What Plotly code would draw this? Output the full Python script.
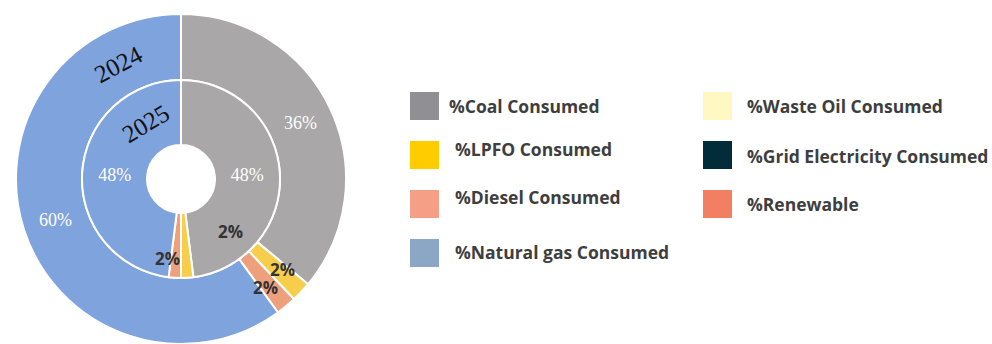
import math
import plotly.graph_objects as go

# ---------------- data ----------------
pie_labels = ["%Coal Consumed", "%LPFO Consumed", "%Diesel Consumed", "%Natural gas Consumed"]
values_2024 = [36, 2, 2, 60]
values_2025 = [48, 2, 2, 48]
pie_colors = ["#A9A7A7", "#F6CE4C", "#EEA07C", "#7FA3DD"]

legend_labels = ["%Coal Consumed", "%LPFO Consumed", "%Diesel Consumed", "%Natural gas Consumed",
                 "%Waste Oil Consumed", "%Grid Electricity Consumed", "%Renewable"]
legend_colors = ["#8F8F94", "#FFCC00", "#F49F86", "#8CA6C5", "#FFF8C2", "#032C3A", "#F37F62"]

# ---------------- layout (pixels) ----------------
W, H = 992, 344
CX, CY = 181, 179          # pie centre
R_OUT, R_MID, R_IN = 165, 99, 34
SERIF = "Liberation Serif"


def px(x):
    return x / W


def py(y):
    return 1 - y / H


fig = go.Figure()

big = lambda vals: ["inside" if v >= 10 else "none" for v in vals]

for vals, r_outer, r_hole in [(values_2024, R_OUT, R_MID), (values_2025, R_MID, R_IN)]:
    dom_y = [max(0, py(CY + r_outer)), py(CY - r_outer)]
    fig.add_trace(go.Pie(
        labels=pie_labels, values=vals, sort=False, direction="clockwise", rotation=0,
        hole=r_hole / r_outer,
        domain=dict(x=[px(CX - r_outer), px(CX + r_outer)], y=dom_y),
        marker=dict(colors=pie_colors, line=dict(color="white", width=2)),
        texttemplate="%{value}%", textposition=big(vals),
        insidetextorientation="horizontal",
        insidetextfont=dict(family=SERIF, size=18, color="white"),
        textfont=dict(family=SERIF, size=18, color="white"),
        showlegend=False, hoverinfo="label+value",
    ))

annotations = []


def small_labels(vals, r0, r1, shifts):
    total = sum(vals)
    cum = 0
    for i, v in enumerate(vals):
        mid = (cum + v / 2) / total * 2 * math.pi
        cum += v
        if v >= 10:
            continue
        r = (r0 + r1) / 2
        x = CX + r * math.sin(mid)
        y = CY - r * math.cos(mid)
        dx, dy = shifts.get(i, (0, 0))
        annotations.append(dict(
            x=px(x), y=py(y), xref="paper", yref="paper", text=f"{v}%", showarrow=False,
            xanchor="center", yanchor="middle", xshift=dx, yshift=dy,
            font=dict(family="Open Sans", size=17, color="#333333", weight=700)))


small_labels(values_2024, R_MID, R_OUT, {1: (5, 0), 2: (0, -7)})
small_labels(values_2025, R_IN, R_MID, {1: (45, 14), 2: (-9, -13)})

# year labels
annotations.append(dict(x=px(118), y=py(64), xref="paper", yref="paper", text="2024", showarrow=False,
                        xanchor="center", yanchor="middle", textangle=-28,
                        font=dict(family=SERIF, size=25, color="#111111")))
annotations.append(dict(x=px(146), y=py(124), xref="paper", yref="paper", text="2025", showarrow=False,
                        xanchor="center", yanchor="middle", textangle=-31,
                        font=dict(family=SERIF, size=25, color="#111111")))

# legend (manual, two columns)
sw_x = [410, 410, 410, 410, 703, 703, 703]
sw_y = [92, 141, 190, 239, 92, 141, 190]
tx_x = [447, 453, 453, 453, 745, 745, 745]
tx_y = [106, 149, 197, 252, 106, 156, 204]
shapes = []
for i, lab in enumerate(legend_labels):
    shapes.append(dict(type="rect", xref="paper", yref="paper",
                       x0=px(sw_x[i]), x1=px(sw_x[i] + 29), y0=py(sw_y[i] + 28), y1=py(sw_y[i]),
                       fillcolor=legend_colors[i], line=dict(width=0)))
    annotations.append(dict(x=px(tx_x[i]), y=py(tx_y[i]), xref="paper", yref="paper", text=lab,
                            showarrow=False, xanchor="left", yanchor="middle",
                            font=dict(family="Open Sans", size=17.5, color="#3E3E3E", weight=700)))

fig.update_layout(
    width=W, height=H, margin=dict(l=0, r=0, t=0, b=0),
    paper_bgcolor="white", plot_bgcolor="white",
    showlegend=False, annotations=annotations, shapes=shapes,
)

fig.write_html("out.html")
